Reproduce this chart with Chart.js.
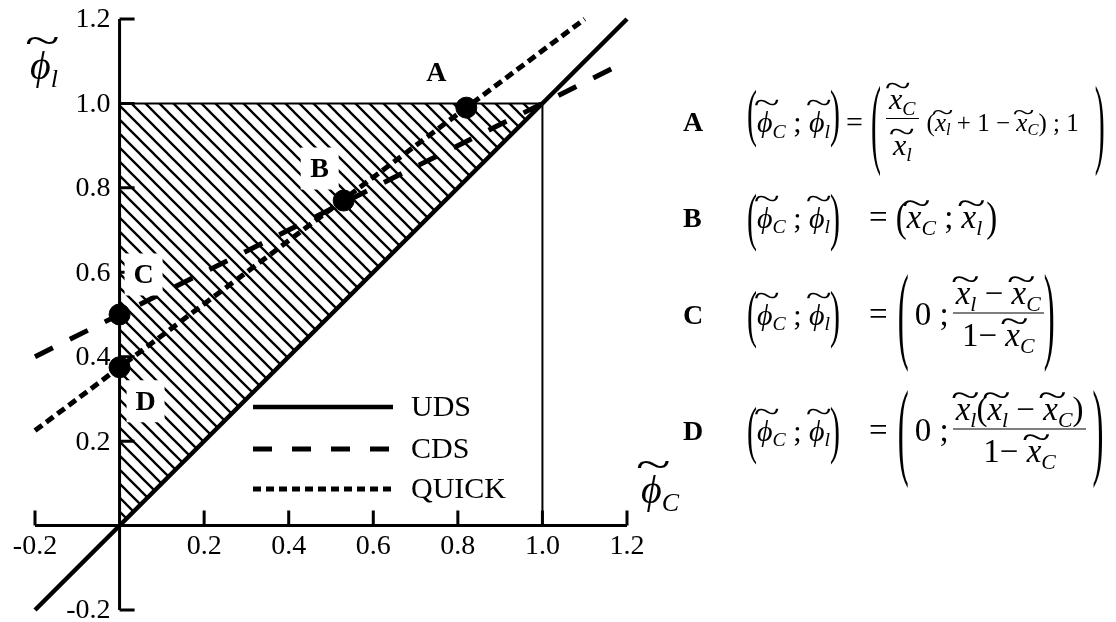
<!DOCTYPE html>
<html>
<head>
<meta charset="utf-8">
<script src="https://cdn.jsdelivr.net/npm/chart.js@4.4.0/dist/chart.umd.min.js"></script>
<style>
body { margin: 0; background: #fff; }
#wrap { position: relative; width: 1116px; height: 622px; font-family: 'Liberation Serif', 'Times New Roman', serif; color: #000; }
#chart { position: absolute; left: 0; top: 0; }
.row { position: absolute; left: 683px; display: flex; align-items: center; transform: translateY(-50%); font-size: 30px; line-height: 30px; white-space: nowrap; }
.lab { font-weight: bold; font-size: 28px; width: 64px; }
.run { display: inline-block; }
.row sub { font-size: 0.66em; line-height: 0; vertical-align: baseline; position: relative; top: 0.3em; font-style: italic; }
.p { display: inline-block; transform: scaleY(2.1); }
.pm { display: inline-block; transform: scaleY(1.3); }
.bp { display: inline-block; transform: scaleY(3.3); }
.t { position: relative; display: inline-block; font-style: italic; }
.t::before { content: '~'; position: absolute; left: -3px; right: -7px; text-align: center; font-style: normal; top: -0.62em; transform: scaleX(1.6); }
.tx::before { top: -0.42em; }
.frac { display: inline-flex; flex-direction: column; align-items: center; }
.frac .num { border-bottom: 1.5px solid #000; padding: 0 3px 3px 3px; }
.frac .den { padding: 5px 3px 0 3px; }
.big { font-size: 33px; line-height: 33px; }
.small { font-size: 25px; line-height: 25px; }
.ttl { position: absolute; font-size: 40px; line-height: 40px; }
.ttl sub { font-size: 26px; line-height: 0; vertical-align: baseline; position: relative; top: 0.3em; font-style: italic; }
</style>
</head>
<body>
<div id="wrap">
<canvas id="chart" width="1116" height="622"></canvas>

<div class="ttl" style="left:30px; top:46px;"><span class="t">ϕ</span><sub>l</sub></div>
<div class="ttl" style="left:641px; top:470px;"><span class="t">ϕ</span><sub>C</sub></div>

<div class="row" style="top:122px;">
  <b class="lab">A</b>
  <span class="p" style="position:relative;top:-9px">(</span><span class="run"><span class="t">ϕ</span><sub>C</sub> ; <span class="t">ϕ</span><sub>l</sub></span><span class="p" style="position:relative;top:-9px">)</span>
  <span class="run" style="margin-left:6px">=</span>
  <span class="bp" style="margin-left:8px">(</span>
  <span class="frac" style="font-size:30px;line-height:30px;margin-left:5px"><span class="num" style="padding-bottom:4px"><span class="t tx">x</span><sub>C</sub></span><span class="den" style="padding-top:11px"><span class="t tx">x</span><sub>l</sub></span></span>
  <span class="run small" style="margin-left:8px">(<span class="t tx">x</span><sub>l</sub> + 1 − <span class="t tx">x</span><sub>C</sub>) ; 1</span>
  <span class="bp" style="margin-left:16px">)</span>
</div>

<div class="row" style="top:217px;">
  <b class="lab">B</b>
  <span class="p">(</span><span class="run"><span class="t">ϕ</span><sub>C</sub> ; <span class="t">ϕ</span><sub>l</sub></span><span class="p">)</span>
  <span class="run big" style="margin-left:29px">=</span>
  <span class="pm big" style="margin-left:8px">(</span><span class="run big"><span class="t tx">x</span><sub>C</sub> ; <span class="t tx">x</span><sub>l</sub></span><span class="pm big" style="margin-left:4px">)</span>
</div>

<div class="row" style="top:314px;">
  <b class="lab">C</b>
  <span class="p">(</span><span class="run"><span class="t">ϕ</span><sub>C</sub> ; <span class="t">ϕ</span><sub>l</sub></span><span class="p">)</span>
  <span class="run big" style="margin-left:29px">=</span>
  <span class="bp big" style="margin-left:10px">(</span>
  <span class="run big" style="margin-left:6px">0 ;</span>
  <span class="frac big" style="margin-left:4px"><span class="num"><span class="t tx">x</span><sub>l</sub> − <span class="t tx">x</span><sub>C</sub></span><span class="den">1− <span class="t tx">x</span><sub>C</sub></span></span>
  <span class="bp big">)</span>
</div>

<div class="row" style="top:430px;">
  <b class="lab">D</b>
  <span class="p">(</span><span class="run"><span class="t">ϕ</span><sub>C</sub> ; <span class="t">ϕ</span><sub>l</sub></span><span class="p">)</span>
  <span class="run big" style="margin-left:29px">=</span>
  <span class="bp big" style="margin-left:10px">(</span>
  <span class="run big" style="margin-left:6px">0 ;</span>
  <span class="frac big" style="margin-left:4px"><span class="num"><span class="t tx">x</span><sub>l</sub>(<span class="t tx">x</span><sub>l</sub> − <span class="t tx">x</span><sub>C</sub>)</span><span class="den">1− <span class="t tx">x</span><sub>C</sub></span></span>
  <span class="bp big" style="margin-left:6px">)</span>
</div>
</div>

<script>
// axis ranges and ticks
var xRange = [-0.2, 1.2];
var yRange = [-0.2, 1.2];
var xTicks = [-0.2, 0.2, 0.4, 0.6, 0.8, 1.0, 1.2];
var yTicks = [-0.2, 0.2, 0.4, 0.6, 0.8, 1.0, 1.2];

// schemes: UDS, CDS, QUICK
var seriesNames = ['UDS', 'CDS', 'QUICK'];
var udsX = [-0.2, 1.2];
var udsY = [-0.2, 1.2];
var cdsX = [-0.2, 1.2];
var cdsY = [0.4, 1.1];
var quickX = [-0.2, 1.1];
var quickY = [0.225, 1.2];

// hatched TVD region and the limit at phi_C = 1
var regionX = [0, 0, 1, 0];
var regionY = [0, 1, 1, 0];
var limitX = [1, 1];
var limitY = [0, 1];

// marked points
var pointNames = ['A', 'B', 'C', 'D'];
var pointX = [0.82, 0.53, 0, 0];
var pointY = [0.99, 0.77, 0.5, 0.375];

function xy(xs, ys) {
    return xs.map(function (x, i) { return { x: x, y: ys[i] }; });
}

function hatch() {
    var c = document.createElement('canvas');
    c.width = 14; c.height = 14;
    var g = c.getContext('2d');
    g.strokeStyle = '#000';
    g.lineWidth = 2.3;
    g.beginPath();
    g.moveTo(-2, -2); g.lineTo(16, 16);
    g.moveTo(-2, 12); g.lineTo(2, 16);
    g.moveTo(12, -2); g.lineTo(16, 2);
    g.stroke();
    return g.createPattern(c, 'repeat');
}

var FONT = "'Liberation Serif', 'Times New Roman', serif";

var axesPlugin = {
    id: 'axesPlugin',
    beforeDatasetsDraw: function (chart) {
        var ctx = chart.ctx, xs = chart.scales.x, ys = chart.scales.y;
        var x0 = xs.getPixelForValue(0), y0 = ys.getPixelForValue(0);
        ctx.save();
        ctx.strokeStyle = '#000';
        ctx.lineWidth = 3;
        ctx.beginPath();
        ctx.moveTo(xs.getPixelForValue(xRange[0]), y0);
        ctx.lineTo(xs.getPixelForValue(xRange[1]), y0);
        ctx.moveTo(x0, ys.getPixelForValue(yRange[0]));
        ctx.lineTo(x0, ys.getPixelForValue(yRange[1]));
        xTicks.forEach(function (v) {
            var px = xs.getPixelForValue(v);
            ctx.moveTo(px, y0); ctx.lineTo(px, y0 - 15);
        });
        yTicks.forEach(function (v) {
            var py = ys.getPixelForValue(v);
            ctx.moveTo(x0, py); ctx.lineTo(x0 + 15, py);
        });
        ctx.stroke();
        ctx.fillStyle = '#000';
        ctx.font = '28px ' + FONT;
        ctx.textAlign = 'center';
        ctx.textBaseline = 'middle';
        xTicks.forEach(function (v) {
            ctx.fillText(v.toFixed(1), xs.getPixelForValue(v), y0 + 21);
        });
        ctx.textAlign = 'right';
        yTicks.forEach(function (v) {
            ctx.fillText(v.toFixed(1), x0 - 9, ys.getPixelForValue(v) + 1);
        });
        ctx.restore();
    },
    afterDatasetsDraw: function (chart) {
        var ctx = chart.ctx, xs = chart.scales.x, ys = chart.scales.y;
        var offs = [[-30, -35], [-24, -32], [24, -40], [26, 34]];
        ctx.save();
        ctx.font = 'bold 28px ' + FONT;
        ctx.textAlign = 'center';
        ctx.textBaseline = 'middle';
        pointNames.forEach(function (n, i) {
            var px = xs.getPixelForValue(pointX[i]) + offs[i][0];
            var py = ys.getPixelForValue(pointY[i]) + offs[i][1];
            if (i > 0) {
                ctx.fillStyle = '#fff';
                ctx.fillRect(px - 19, py - 21, 38, 42);
            }
            ctx.fillStyle = '#000';
            ctx.fillText(n, px, py + 1);
        });
        // legend
        var dashes = [[], [19, 20], [8, 5]];
        var rows = [407, 449, 489];
        ctx.font = '30px ' + FONT;
        ctx.textAlign = 'left';
        seriesNames.forEach(function (n, i) {
            ctx.strokeStyle = '#000';
            ctx.lineWidth = i === 0 ? 4.5 : 5;
            ctx.setLineDash(dashes[i]);
            ctx.beginPath();
            ctx.moveTo(253, rows[i]);
            ctx.lineTo(393, rows[i]);
            ctx.stroke();
            ctx.setLineDash([]);
            ctx.fillText(n, 411, rows[i] + 1);
        });
        ctx.restore();
    }
};

new Chart(document.getElementById('chart'), {
    type: 'scatter',
    data: {
        datasets: [
            {
                label: 'points',
                data: xy(pointX, pointY),
                pointRadius: 10.5,
                pointBackgroundColor: '#000',
                pointBorderColor: '#000',
                showLine: false,
                order: 0
            },
            {
                label: seriesNames[0],
                data: xy(udsX, udsY),
                showLine: true,
                borderColor: '#000',
                borderWidth: 4.5,
                pointRadius: 0,
                clip: false,
                order: 1
            },
            {
                label: seriesNames[1],
                data: xy(cdsX, cdsY),
                showLine: true,
                borderColor: '#000',
                borderWidth: 5,
                borderDash: [20, 19],
                borderCapStyle: 'butt',
                pointRadius: 0,
                clip: false,
                order: 2
            },
            {
                label: seriesNames[2],
                data: xy(quickX, quickY),
                showLine: true,
                borderColor: '#000',
                borderWidth: 5,
                borderDash: [9, 5],
                borderCapStyle: 'butt',
                pointRadius: 0,
                clip: false,
                order: 3
            },
            {
                label: 'limit',
                data: xy(limitX, limitY),
                showLine: true,
                borderColor: '#000',
                borderWidth: 2,
                pointRadius: 0,
                order: 4
            },
            {
                label: 'region',
                data: xy(regionX, regionY),
                showLine: true,
                fill: 'shape',
                backgroundColor: hatch(),
                borderColor: '#000',
                borderWidth: 2,
                pointRadius: 0,
                order: 5
            }
        ]
    },
    options: {
        responsive: false,
        animation: false,
        layout: { padding: { left: 35, right: 489, top: 19, bottom: 12 } },
        plugins: { legend: { display: false }, tooltip: { enabled: false } },
        scales: {
            x: { type: 'linear', min: xRange[0], max: xRange[1], display: false },
            y: { type: 'linear', min: yRange[0], max: yRange[1], display: false }
        }
    },
    plugins: [axesPlugin]
});
</script>
</body>
</html>
